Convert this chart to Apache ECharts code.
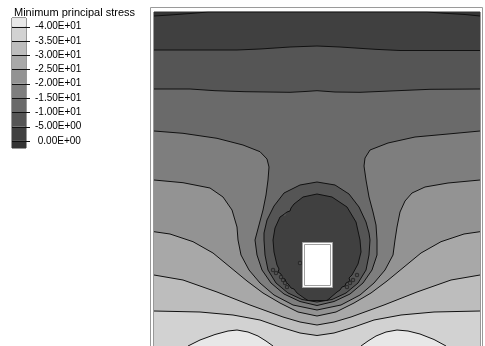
<!DOCTYPE html>
<html>
<head>
<meta charset="utf-8">
<script src="https://cdn.jsdelivr.net/npm/echarts@6/dist/echarts.min.js"></script>
<style>
  html, body { margin: 0; padding: 0; background: #fff; }
  #chart { width: 485px; height: 346px; }
</style>
</head>
<body>
<div id="chart"></div>
<script>
// legend levels, top to bottom
const levels = [-40, -35, -30, -25, -20, -15, -10, -5, 0];
// grey of each band: below -40 first, above 0 last
const bandColors = ['#e8e8e8', '#d2d2d2', '#bdbdbd', '#a8a8a8', '#939393',
  '#7e7e7e', '#6a6a6a', '#555555', '#404040', '#353535'];

// model extent (width, depth)
const modelWidth = 326;
const modelDepth = 334;

// contour lines as [x, depth]
const line0 = [[0, 4], [16, 3], [36, 1.5], [54, 0], [273, 0], [291, 1.3], [311, 2.5], [326, 4]];
const line5 = [[0, 38], [46, 38], [83, 38], [106, 37], [136, 35], [163, 34], [186, 35],
  [221, 37.3], [246, 38.5], [326, 38.5]];
const line10 = [[0, 77], [36, 77], [61, 78.7], [91, 79.7], [136, 80.3], [151, 79.5], [163, 78.7],
  [181, 80], [206, 80.3], [236, 79], [276, 77.3], [326, 77]];
const line15 = [[0, 119], [29, 121.3], [63, 126.3], [89, 133], [106, 139.7], [113, 147], [115, 155],
  [114, 168], [112, 183], [109, 198], [105, 213], [101, 228], [103, 243], [108, 258], [117, 271],
  [130, 282], [146, 289.5], [163, 293.5], [180, 289.5], [196, 282], [209, 271], [218, 258],
  [223, 243], [223, 228], [222, 213], [219, 200], [215, 185], [212, 168], [210, 154], [211, 146],
  [216, 138], [234, 131], [261, 125], [294, 122], [326, 119]];
const line20 = [[0, 168], [29, 170.7], [56, 176], [69, 185], [78, 198], [83, 215], [84, 228],
  [87, 243], [95, 258], [106, 271], [120, 283], [139, 293], [163, 298], [187, 293], [206, 283],
  [220, 271], [231, 258], [239, 243], [241, 228], [243, 215], [246, 200], [251, 189], [258, 181],
  [271, 175], [294, 171], [326, 168]];
const line25 = [[0, 219.7], [16, 222], [39, 229.7], [59, 241], [76, 255], [93, 269], [109, 281],
  [126, 291], [144, 300], [163, 304], [182, 300], [200, 291], [217, 281], [233, 269], [250, 255],
  [267, 241], [287, 229.7], [310, 222], [326, 219.7]];
const line30 = [[0, 263], [29, 268], [63, 280], [96, 293], [129, 305], [146, 310], [163, 313],
  [180, 310], [197, 305], [230, 293], [263, 280], [297, 268], [326, 263]];
const line35 = [[0, 299], [46, 300], [79, 303], [106, 308], [126, 315], [146, 321], [163, 323.5],
  [180, 321], [200, 315], [220, 308], [247, 303], [280, 300], [326, 299]];
const line40Left = [[34, 334], [46, 328], [61, 322.5], [74, 319], [83, 318], [94, 320], [104, 324],
  [112, 329], [119, 334]];
const line40Right = [[207, 334], [214, 329], [222, 324], [232, 320], [243, 318], [254, 319],
  [266, 322], [280, 327.5], [292, 334]];
// closed loops round the opening
const loop10 = [[163, 170], [181, 173], [195, 182], [205, 195], [212, 210], [215, 221], [216, 228],
  [215, 243], [212, 258], [204, 271], [192, 281], [178, 287.5], [163, 290], [148, 287.5], [134, 281],
  [122, 271], [114, 258], [111, 243], [110, 228], [110, 221], [113, 208], [120, 194], [130, 181],
  [146, 173]];
const loop5 = [[163, 182], [178, 185], [193, 195], [202, 210], [206, 228], [207, 240], [204, 252],
  [198, 263], [195, 266], [196, 269], [192, 271], [191, 274], [188, 275], [186, 278], [183, 280],
  [176, 286], [173, 288.5], [154, 288.5], [150, 286], [143, 281], [140, 277], [137, 276], [135, 273],
  [132, 270], [131, 267], [128, 266], [127, 262], [124, 260], [125, 257], [123, 253], [120, 240],
  [119, 228], [121, 216], [126, 205], [129, 203], [131, 204], [133, 200], [136, 199], [137, 196],
  [140, 192], [149, 185]];
// tiny islands of the -5 level along the lower flanks
const islands = [[119, 258], [122, 261], [127, 265], [129, 268], [131, 271], [133, 275],
  [193, 275], [196, 271], [199, 268], [203, 263], [146, 251]];
// opening: two corners
const hole = [[148, 230], [178, 275]];

// kind: 'edge' runs side to side, 'base' starts and ends on the bottom, 'loop' is closed
const contours = [
  { level: 0, pts: line0, kind: 'edge' },
  { level: -5, pts: line5, kind: 'edge' },
  { level: -10, pts: line10, kind: 'edge' },
  { level: -15, pts: line15, kind: 'edge' },
  { level: -20, pts: line20, kind: 'edge' },
  { level: -25, pts: line25, kind: 'edge' },
  { level: -30, pts: line30, kind: 'edge' },
  { level: -35, pts: line35, kind: 'edge' },
  { level: -40, pts: line40Left, kind: 'base' },
  { level: -40, pts: line40Right, kind: 'base' },
  { level: -10, pts: loop10, kind: 'loop' },
  { level: -5, pts: loop5, kind: 'loop' },
];

function bandIndex(lo) {
  return (lo + 45) / 5;
}

function sci(v) {
  if (v === 0) return ' 0.00E+00';
  const e = Math.floor(Math.log10(Math.abs(v)));
  const m = Math.abs(v) / Math.pow(10, e);
  return (v < 0 ? '-' : ' ') + m.toFixed(2) + 'E' + (e < 0 ? '-' : '+') + String(Math.abs(e)).padStart(2, '0');
}

const font = "'Liberation Sans', Arial, sans-serif";
const chart = echarts.init(document.getElementById('chart'));

const lineSeries = contours.map(c => ({
  type: 'line',
  xAxisIndex: 0,
  yAxisIndex: 0,
  data: c.kind === 'loop' ? c.pts.concat([c.pts[0]]) : c.pts,
  showSymbol: false,
  silent: true,
  lineStyle: { color: '#111', width: 1 },
  z: 3,
}));

chart.setOption({
  animation: false,
  title: {
    text: 'Minimum principal stress',
    left: 14,
    top: 7,
    padding: 0,
    textStyle: { fontSize: 11, fontWeight: 'normal', color: '#000', fontFamily: font },
  },
  grid: [
    { left: 154, top: 12, width: 326, height: 334, show: true,
      backgroundColor: bandColors[9], borderColor: '#333', borderWidth: 1 },
    { left: 12, top: 18, width: 14, height: 130, show: true,
      backgroundColor: 'transparent', borderColor: '#333', borderWidth: 1 },
  ],
  xAxis: [
    { type: 'value', gridIndex: 0, min: 0, max: modelWidth, show: false },
    { type: 'value', gridIndex: 1, min: 0, max: 1, show: false },
  ],
  yAxis: [
    { type: 'value', gridIndex: 0, min: 0, max: modelDepth, inverse: true, show: false },
    {
      type: 'value', gridIndex: 1, min: -43, max: 2.5, inverse: true, position: 'right',
      axisLine: { show: false },
      axisTick: { show: false },
      splitLine: { show: false },
      axisLabel: {
        customValues: levels,
        margin: 9,
        fontSize: 10,
        color: '#000',
        fontFamily: font,
        formatter: v => sci(v),
      },
    },
  ],
  graphic: [{
    type: 'rect',
    shape: { x: 150.5, y: 7.5, width: 332, height: 345 },
    style: { fill: 'none', stroke: '#9a9a9a', lineWidth: 1 },
    silent: true,
    z: 0,
  }],
  series: [
    {
      type: 'custom',
      name: 'bands',
      xAxisIndex: 0,
      yAxisIndex: 0,
      data: contours.map((c, i) => [i]),
      silent: true,
      z: 2,
      renderItem: (params, api) => {
        const c = contours[params.dataIndex];
        const pts = c.pts.map(p => api.coord(p));
        if (c.kind === 'edge') {
          pts.push(api.coord([modelWidth, modelDepth]), api.coord([0, modelDepth]));
        }
        const idx = c.kind === 'loop' ? bandIndex(c.level) : bandIndex(c.level - 5);
        return { type: 'polygon', shape: { points: pts }, style: { fill: bandColors[idx] } };
      },
    },
    ...lineSeries,
    {
      type: 'scatter',
      xAxisIndex: 0,
      yAxisIndex: 0,
      data: islands,
      symbol: 'emptyCircle',
      symbolSize: 2.5,
      silent: true,
      itemStyle: { color: '#222', borderColor: '#222', borderWidth: 0.8 },
      z: 3,
    },
    {
      type: 'custom',
      name: 'opening',
      xAxisIndex: 0,
      yAxisIndex: 0,
      data: [[0]],
      silent: true,
      z: 4,
      renderItem: (params, api) => {
        const a = api.coord(hole[0]);
        const b = api.coord(hole[1]);
        return {
          type: 'group',
          children: [
            { type: 'rect', shape: { x: a[0] + 0.5, y: a[1] + 0.5, width: b[0] - a[0], height: b[1] - a[1] },
              style: { fill: '#fff', stroke: '#a0a0a0', lineWidth: 1 } },
            { type: 'rect', shape: { x: a[0] + 2.5, y: a[1] + 2.5, width: b[0] - a[0] - 4, height: b[1] - a[1] - 4 },
              style: { fill: '#fff', stroke: '#a0a0a0', lineWidth: 1 } },
          ],
        };
      },
    },
    {
      type: 'custom',
      name: 'legend bands',
      xAxisIndex: 1,
      yAxisIndex: 1,
      data: bandColors.map((c, k) => [k]),
      clip: true,
      silent: true,
      renderItem: (params, api) => {
        const lo = -45 + 5 * params.dataIndex;
        const a = api.coord([0, lo]);
        const b = api.coord([1, lo + 5]);
        return { type: 'rect', shape: { x: a[0], y: a[1], width: b[0] - a[0], height: b[1] - a[1] },
          style: { fill: bandColors[params.dataIndex] } };
      },
    },
    {
      type: 'custom',
      name: 'legend ticks',
      xAxisIndex: 1,
      yAxisIndex: 1,
      data: levels.map(v => [0, v]),
      silent: true,
      z: 3,
      renderItem: (params, api) => {
        const p = api.coord([0, api.value(1)]);
        const q = api.coord([1, api.value(1)]);
        const y = Math.round(p[1]) + 0.5;
        return { type: 'line', shape: { x1: p[0], y1: y, x2: q[0] + 4, y2: y },
          style: { stroke: '#111', lineWidth: 1 } };
      },
    },
  ],
});
</script>
</body>
</html>
